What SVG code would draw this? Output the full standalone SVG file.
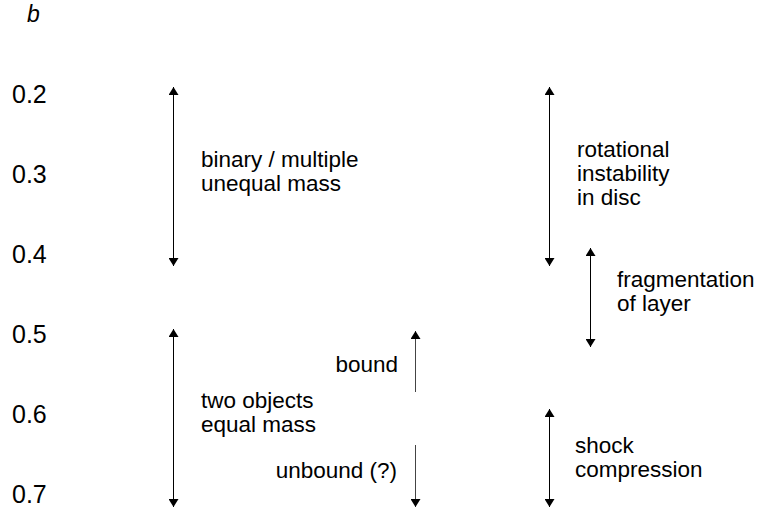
<svg xmlns="http://www.w3.org/2000/svg" width="757" height="511" viewBox="0 0 757 511">
<style>
text{font-family:"Liberation Sans",Arial,sans-serif;font-size:22.5px;fill:#000}
.ax{font-size:25px}
.it{font-style:italic;font-size:23px}
.r{text-anchor:end}
.ln{stroke:#000;stroke-width:1;fill:none}
.lg{stroke:#444;stroke-width:1;fill:none}
</style>
<defs>
<marker id="ah" viewBox="0 0 8 10" refX="8" refY="5" markerWidth="8" markerHeight="10" markerUnits="userSpaceOnUse" orient="auto-start-reverse">
<path d="M0,0 L8,5 L0,10 z" fill="#000"/>
</marker>
</defs>
<g id="axis">
<text class="it" x="27" y="22">b</text>
<text class="ax" x="12" y="103">0.2</text>
<text class="ax" x="12" y="183">0.3</text>
<text class="ax" x="12" y="263">0.4</text>
<text class="ax" x="12" y="343">0.5</text>
<text class="ax" x="12" y="423">0.6</text>
<text class="ax" x="12" y="503">0.7</text>
</g>
<g id="connectors">
<line class="ln" x1="173.5" y1="87" x2="173.5" y2="266" marker-start="url(#ah)" marker-end="url(#ah)"/>
<line class="ln" x1="173.5" y1="329" x2="173.5" y2="507" marker-start="url(#ah)" marker-end="url(#ah)"/>
<line class="lg" x1="415.5" y1="331" x2="415.5" y2="392" marker-start="url(#ah)"/>
<line class="lg" x1="415.5" y1="445" x2="415.5" y2="507" marker-end="url(#ah)"/>
<line class="ln" x1="549.5" y1="87" x2="549.5" y2="266" marker-start="url(#ah)" marker-end="url(#ah)"/>
<line class="ln" x1="590.5" y1="248" x2="590.5" y2="347" marker-start="url(#ah)" marker-end="url(#ah)"/>
<line class="ln" x1="549.5" y1="409" x2="549.5" y2="507" marker-start="url(#ah)" marker-end="url(#ah)"/>
</g>
<g id="binary">
<text x="201" y="167">binary / multiple</text>
<text x="201" y="191">unequal mass</text>
</g>
<g id="rotational">
<text x="577" y="157">rotational</text>
<text x="577" y="181">instability</text>
<text x="577" y="205">in disc</text>
</g>
<g id="fragmentation">
<text x="617" y="287">fragmentation</text>
<text x="617" y="311">of layer</text>
</g>
<g id="two-objects">
<text x="201" y="408">two objects</text>
<text x="201" y="432">equal mass</text>
</g>
<g id="bound">
<text class="r" x="398" y="372">bound</text>
</g>
<g id="unbound">
<text class="r" x="397" y="478">unbound (?)</text>
</g>
<g id="shock">
<text x="575" y="453">shock</text>
<text x="575" y="477">compression</text>
</g>
</svg>
